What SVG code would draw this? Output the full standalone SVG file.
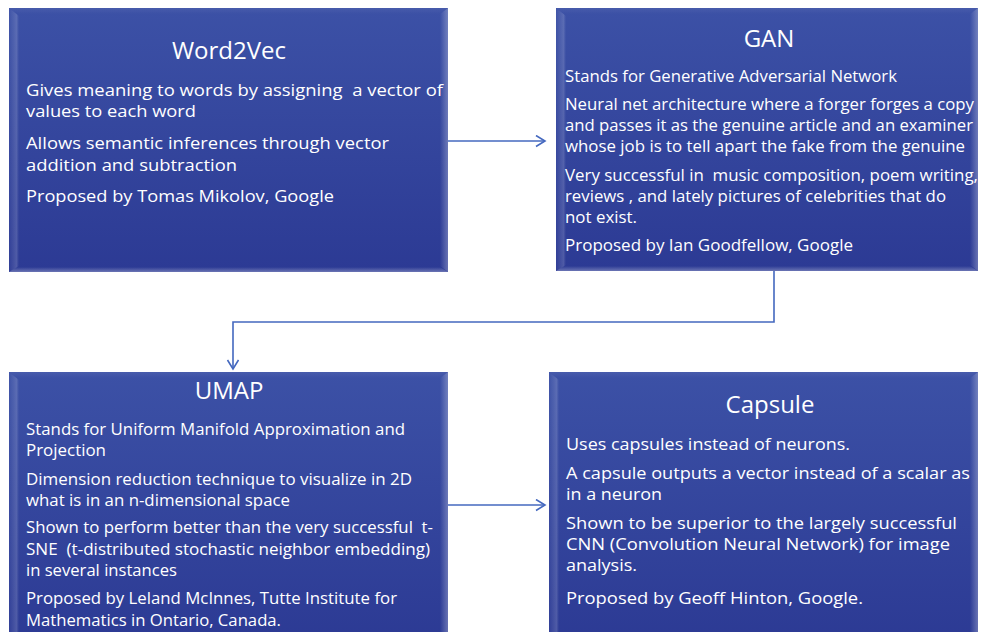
<svg xmlns="http://www.w3.org/2000/svg" width="981" height="632" viewBox="0 0 981 632">
  <style>
    .box { fill: url(#boxFill); }
    .bev-l { fill: url(#bevL); }
    .bev-r { fill: url(#bevR); }
    .bev-t { fill: url(#bevT); }
    .bev-b { fill: url(#bevB); }
    .title { font-family: "Open Sans", "Noto Sans", sans-serif; font-size: 24px; fill: #ffffff; text-anchor: middle; }
    .body { font-family: "Open Sans", "Noto Sans", sans-serif; font-size: 17px; fill: #ffffff; white-space: pre; }
    .conn { fill: none; stroke: #4468bf; stroke-width: 1.6; }
  </style>
  <defs>
    <linearGradient id="boxFill" x1="0" y1="0" x2="0" y2="1">
      <stop offset="0" stop-color="#3c51a6"/>
      <stop offset="1" stop-color="#2c3a94"/>
    </linearGradient>
    <linearGradient id="bevL" x1="0" y1="0" x2="1" y2="0">
      <stop offset="0" stop-color="#ffffff" stop-opacity="0.02"/>
      <stop offset="0.75" stop-color="#ffffff" stop-opacity="0.16"/>
      <stop offset="1" stop-color="#ffffff" stop-opacity="0"/>
    </linearGradient>
    <linearGradient id="bevR" x1="0" y1="0" x2="1" y2="0">
      <stop offset="0" stop-color="#ffffff" stop-opacity="0"/>
      <stop offset="1" stop-color="#ffffff" stop-opacity="0.28"/>
    </linearGradient>
    <linearGradient id="bevT" x1="0" y1="0" x2="0" y2="1">
      <stop offset="0" stop-color="#ffffff" stop-opacity="0.06"/>
      <stop offset="1" stop-color="#ffffff" stop-opacity="0"/>
    </linearGradient>
    <linearGradient id="bevB" x1="0" y1="0" x2="0" y2="1">
      <stop offset="0" stop-color="#ffffff" stop-opacity="0"/>
      <stop offset="1" stop-color="#ffffff" stop-opacity="0.3"/>
    </linearGradient>
    <marker id="arrow" markerWidth="12" markerHeight="14" refX="10" refY="6" orient="auto" markerUnits="userSpaceOnUse">
      <path d="M1,0.5 L10,6 L1,11.5" fill="none" stroke="#4468bf" stroke-width="1.6"/>
    </marker>
  </defs>

  <!-- connectors -->
  <g id="connectors">
    <path class="conn" d="M448,141 H545" marker-end="url(#arrow)"/>
    <path class="conn" d="M774,271 V322 H233 V369" marker-end="url(#arrow)"/>
    <path class="conn" d="M448,505 H545" marker-end="url(#arrow)"/>
  </g>

  <!-- Word2Vec -->
  <g id="word2vec">
    <rect class="box" x="9" y="8" width="439" height="264"/>
    <polygon class="bev-t" points="9,8 448,8 440,14 17,14"/>
    <polygon class="bev-l" points="9,8 19,16 19,266 9,272"/>
    <polygon class="bev-r" points="440,14 448,8 448,272 440,266"/>
    <polygon class="bev-b" points="17,267 440,267 448,272 9,272"/>
    <text class="title" x="229" y="59">Word2Vec</text>
    <text class="body" x="26" y="96" textLength="417" lengthAdjust="spacingAndGlyphs">Gives meaning to words by assigning  a vector of</text>
    <text class="body" x="26" y="117" textLength="170" lengthAdjust="spacingAndGlyphs">values to each word</text>
    <text class="body" x="26" y="149" textLength="363" lengthAdjust="spacingAndGlyphs">Allows semantic inferences through vector</text>
    <text class="body" x="26" y="171" textLength="211" lengthAdjust="spacingAndGlyphs">addition and subtraction</text>
    <text class="body" x="26" y="202" textLength="308" lengthAdjust="spacingAndGlyphs">Proposed by Tomas Mikolov, Google</text>
  </g>

  <!-- GAN -->
  <g id="gan">
    <rect class="box" x="556" y="8" width="422" height="263"/>
    <polygon class="bev-t" points="556,8 978,8 970,14 564,14"/>
    <polygon class="bev-l" points="556,8 566,16 566,265 556,271"/>
    <polygon class="bev-r" points="970,14 978,8 978,271 970,265"/>
    <polygon class="bev-b" points="564,266 970,266 978,271 556,271"/>
    <text class="title" x="769" y="47">GAN</text>
    <text class="body" x="565" y="82" textLength="332" lengthAdjust="spacingAndGlyphs">Stands for Generative Adversarial Network</text>
    <text class="body" x="565" y="110" textLength="409" lengthAdjust="spacingAndGlyphs">Neural net architecture where a forger forges a copy</text>
    <text class="body" x="565" y="131" textLength="408" lengthAdjust="spacingAndGlyphs">and passes it as the genuine article and an examiner</text>
    <text class="body" x="565" y="152" textLength="400" lengthAdjust="spacingAndGlyphs">whose job is to tell apart the fake from the genuine</text>
    <text class="body" x="565" y="181" textLength="413" lengthAdjust="spacingAndGlyphs">Very successful in  music composition, poem writing,</text>
    <text class="body" x="565" y="202" textLength="381" lengthAdjust="spacingAndGlyphs">reviews , and lately pictures of celebrities that do</text>
    <text class="body" x="565" y="223" textLength="72" lengthAdjust="spacingAndGlyphs">not exist.</text>
    <text class="body" x="565" y="251" textLength="288" lengthAdjust="spacingAndGlyphs">Proposed by Ian Goodfellow, Google</text>
  </g>

  <!-- UMAP -->
  <g id="umap">
    <rect class="box" x="9" y="372" width="439" height="270"/>
    <polygon class="bev-t" points="9,372 448,372 440,378 17,378"/>
    <polygon class="bev-l" points="9,372 19,380 19,642 9,642"/>
    <polygon class="bev-r" points="440,378 448,372 448,642 440,642"/>
    <text class="title" x="229" y="399">UMAP</text>
    <text class="body" x="26" y="435" textLength="379" lengthAdjust="spacingAndGlyphs">Stands for Uniform Manifold Approximation and</text>
    <text class="body" x="26" y="456" textLength="80" lengthAdjust="spacingAndGlyphs">Projection</text>
    <text class="body" x="26" y="485" textLength="386" lengthAdjust="spacingAndGlyphs">Dimension reduction technique to visualize in 2D</text>
    <text class="body" x="26" y="506" textLength="264" lengthAdjust="spacingAndGlyphs">what is in an n-dimensional space</text>
    <text class="body" x="26" y="533" textLength="407" lengthAdjust="spacingAndGlyphs">Shown to perform better than the very successful  t-</text>
    <text class="body" x="26" y="555" textLength="404" lengthAdjust="spacingAndGlyphs">SNE  (t-distributed stochastic neighbor embedding)</text>
    <text class="body" x="26" y="576" textLength="151" lengthAdjust="spacingAndGlyphs">in several instances</text>
    <text class="body" x="26" y="604" textLength="371" lengthAdjust="spacingAndGlyphs">Proposed by Leland McInnes, Tutte Institute for</text>
    <text class="body" x="26" y="626" textLength="255" lengthAdjust="spacingAndGlyphs">Mathematics in Ontario, Canada.</text>
  </g>

  <!-- Capsule -->
  <g id="capsule">
    <rect class="box" x="549" y="372" width="429" height="270"/>
    <polygon class="bev-t" points="549,372 978,372 970,378 557,378"/>
    <polygon class="bev-l" points="549,372 559,380 559,642 549,642"/>
    <polygon class="bev-r" points="970,378 978,372 978,642 970,642"/>
    <text class="title" x="770" y="413">Capsule</text>
    <text class="body" x="566" y="450" textLength="284" lengthAdjust="spacingAndGlyphs">Uses capsules instead of neurons.</text>
    <text class="body" x="566" y="479" textLength="404" lengthAdjust="spacingAndGlyphs">A capsule outputs a vector instead of a scalar as</text>
    <text class="body" x="566" y="500" textLength="96" lengthAdjust="spacingAndGlyphs">in a neuron</text>
    <text class="body" x="566" y="529" textLength="391" lengthAdjust="spacingAndGlyphs">Shown to be superior to the largely successful</text>
    <text class="body" x="566" y="550" textLength="384" lengthAdjust="spacingAndGlyphs">CNN (Convolution Neural Network) for image</text>
    <text class="body" x="566" y="571" textLength="71" lengthAdjust="spacingAndGlyphs">analysis.</text>
    <text class="body" x="566" y="604" textLength="297" lengthAdjust="spacingAndGlyphs">Proposed by Geoff Hinton, Google.</text>
  </g>
</svg>
